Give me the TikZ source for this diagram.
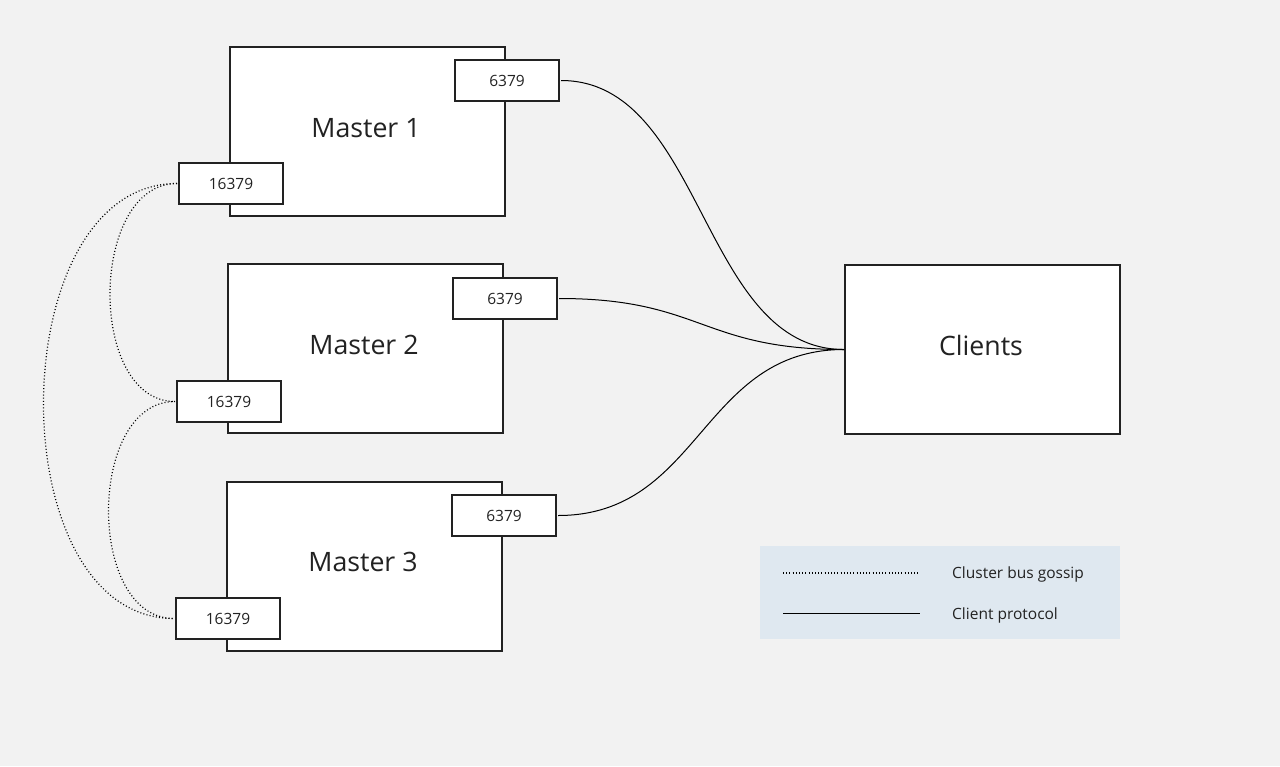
\documentclass[tikz,border=0pt]{standalone}
\usepackage{fontspec}
\setmainfont{Open Sans}
\definecolor{bg}{HTML}{F2F2F2}
\definecolor{bord}{HTML}{222222}
\definecolor{legbg}{HTML}{DFE8F0}
\begin{document}
\begin{tikzpicture}[x=1pt,y=-1pt,
  master/.style={draw=bord, line width=2pt, fill=white, anchor=north west, inner sep=0pt, minimum width=275pt, minimum height=169pt, text=bord},
  title/.style={font=\fontsize{26.7}{30}\selectfont, text=bord},
  port/.style={draw=bord, line width=2pt, fill=white, anchor=north west, inner sep=0pt, minimum width=104pt, minimum height=41pt, font=\fontsize{15.5}{18}\selectfont, text=bord},
  clientline/.style={line width=1pt, draw=black},
  gossip/.style={line width=1.2pt, draw=black, dash pattern=on 1pt off 2.2pt},
  legtext/.style={anchor=west, font=\fontsize{15.5}{18}\selectfont, text=bord, inner sep=0pt}]
\fill[bg] (0,0) rectangle (1280,766);
\useasboundingbox (0,0) rectangle (1280,766);
% masters
\node[master] (m1) at (229,46) {};
\node[master] (m2) at (227,263) {};
\node[master] (m3) at (226,481) {};
\node[master] (cl) at (844,264) {};
\node[title] (t1) at (366,128) {Master 1};
\node[title] (t2) at (364,345) {Master 2};
\node[title] (t3) at (363,562) {Master 3};
\node[title] (tc) at (981,345) {Clients};
% ports
\node[port] (p1) at (454,59) {6379};
\node[port] (p2) at (452,277) {6379};
\node[port] (p3) at (451,494) {6379};
\node[port] (g1) at (178,162) {16379};
\node[port] (g2) at (176,380) {16379};
\node[port] (g3) at (175,597) {16379};
% client connectors
\draw[clientline] ([xshift=1pt]p1.east) .. controls +(143,0) and +(-143,0) .. (cl.west);
\draw[clientline] ([xshift=1pt]p2.east) .. controls +(143,0) and +(-143,0) .. (cl.west);
\draw[clientline] ([xshift=1pt]p3.east) .. controls +(143,0) and +(-143,0) .. (cl.west);
% gossip connectors
\draw[gossip] ([xshift=-1pt]g1.west) .. controls +(-88,0) and +(-88,0) .. ([xshift=-1pt]g2.west);
\draw[gossip] ([xshift=-1pt]g1.west) .. controls +(-176,0) and +(-176,0) .. ([xshift=-1pt]g3.west);
\draw[gossip] ([xshift=-1pt]g2.west) .. controls +(-88,0) and +(-88,0) .. ([xshift=-1pt]g3.west);
% legend
\node[fill=legbg, anchor=north west, minimum width=360pt, minimum height=93pt, inner sep=0pt] (leg) at (760,546) {};
\coordinate (la1) at (783,573);
\coordinate (lb1) at (918,573);
\coordinate (la2) at (783,613);
\coordinate (lb2) at (920,613);
\draw[gossip] (la1) -- (lb1);
\draw[clientline] (la2) -- (lb2);
\node[legtext] (lt1) at (952,574) {Cluster bus gossip};
\node[legtext] (lt2) at (952,615) {Client protocol};
\end{tikzpicture}
\end{document}
